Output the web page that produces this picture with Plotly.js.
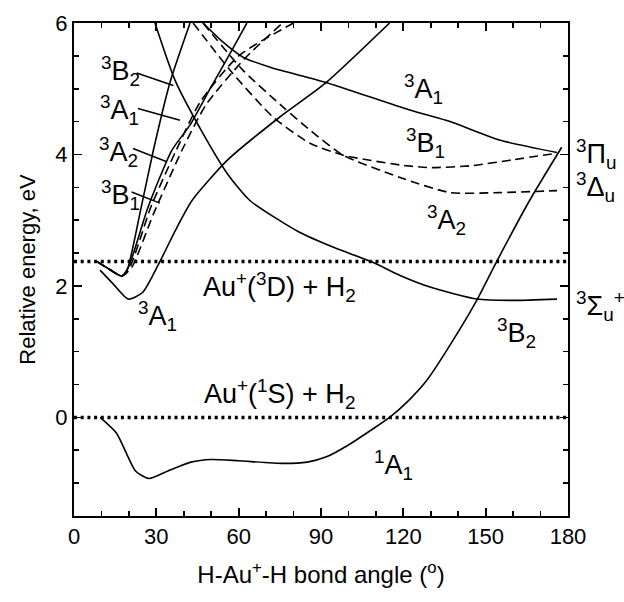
<!DOCTYPE html>
<html>
<head>
<meta charset="utf-8">
<script src="https://cdn.plot.ly/plotly-3.0.1.min.js"></script>
<style>html,body{margin:0;padding:0;background:#fff;}#chart{width:624px;height:602px;}</style>
</head>
<body>
<div id="chart"></div>
<script>
// ---- data (bond angle in degrees, relative energy in eV) ----
const asymptoteAngle = [0, 180];
const asym1S = [0, 0];
const asym3D = [2.37, 2.37];

const a1A1 = [9.5, 15.5, 22.5, 27.3, 35, 42.6, 50, 60, 76, 85, 92, 100, 108, 115, 122, 128.5, 140, 147, 154, 166, 177.7];
const e1A1 = [0, -0.24, -0.82, -0.93, -0.8, -0.68, -0.64, -0.66, -0.70, -0.68, -0.60, -0.42, -0.2, 0, 0.26, 0.56, 1.3, 1.8, 2.37, 3.3, 4.11];

const a3A1low = [9.5, 14.5, 19.7, 25, 31.3, 37, 43, 55.8, 75, 91.5, 115];
const e3A1low = [2.24, 2.02, 1.80, 1.9, 2.37, 2.85, 3.3, 3.91, 4.57, 5.08, 6.0];

const a3Sigma = [29.5, 36.8, 45.9, 56, 64.1, 82, 95, 108.3, 118.8, 130, 146.9, 160, 176];
const e3Sigma = [6.0, 5.13, 4.4, 3.7, 3.30, 2.82, 2.58, 2.37, 2.16, 1.98, 1.80, 1.78, 1.80];

const a3A1up = [47, 54, 61.6, 72, 91.5, 122, 137, 155, 176];
const e3A1up = [6.0, 5.72, 5.48, 5.32, 5.1, 4.68, 4.5, 4.22, 4.03];

const a3Pi = [43.4, 56.9, 72.5, 86, 98, 118.8, 130, 145, 160, 176];
const e3Pi = [6.0, 5.28, 4.57, 4.17, 3.99, 3.84, 3.80, 3.83, 3.92, 4.02];

const a3Delta = [47, 61.6, 76.2, 86, 98, 118.8, 137, 155, 176];
const e3Delta = [6.0, 5.28, 4.72, 4.37, 3.99, 3.65, 3.42, 3.42, 3.45];

const a3B2 = [8.4, 13, 17.4, 19.2, 24, 28.9, 35, 42.3];
const e3B2 = [2.37, 2.25, 2.15, 2.22, 3.1, 4.06, 5.1, 6.0];

const a3A1c = [8.4, 13, 17.4, 20, 27, 35.6, 42.3, 49.6, 58, 63];
const e3A1c = [2.37, 2.25, 2.15, 2.3, 3.2, 4.06, 4.45, 5.0, 5.62, 6.0];

const a3A2c = [8.4, 13, 17.4, 20.5, 28, 37.2, 46, 60, 80];
const e3A2c = [2.37, 2.25, 2.15, 2.3, 3.2, 4.06, 4.8, 5.5, 6.0];

const a3B1c = [8.4, 13, 17.4, 21, 29, 39.3, 48, 62, 76];
const e3B1c = [2.37, 2.25, 2.15, 2.28, 3.1, 4.06, 4.75, 5.45, 6.0];

const xRange = [0, 180];
const yRange = [-1.5, 6];

// ---- traces ----
const LW = 1.6;
const solid = {color: '#000', width: LW, shape: 'spline', smoothing: 0.6};
const dashed = {color: '#000', width: LW, shape: 'spline', smoothing: 0.6, dash: '9px,5px'};
const dotted = {color: '#000', width: 3.5, dash: '3px,3.7px'};

function tr(x, y, line) {
  return {x: x, y: y, mode: 'lines', line: line, hoverinfo: 'skip', showlegend: false};
}

const data = [
  tr(asymptoteAngle, asym1S, dotted),
  tr(asymptoteAngle, asym3D, dotted),
  tr(a1A1, e1A1, solid),
  tr(a3A1low, e3A1low, solid),
  tr(a3Sigma, e3Sigma, solid),
  tr(a3A1up, e3A1up, solid),
  tr(a3Pi, e3Pi, dashed),
  tr(a3Delta, e3Delta, dashed),
  tr(a3B2, e3B2, solid),
  tr(a3A1c, e3A1c, solid),
  tr(a3A2c, e3A2c, dashed),
  tr(a3B1c, e3B1c, dashed),
  // helper (invisible) trace carrying the mirrored top/right tick axes
  {x: asymptoteAngle, y: asym1S, xaxis: 'x2', yaxis: 'y2', mode: 'lines', line: {width: 0}, opacity: 0, hoverinfo: 'skip', showlegend: false}
];

const F = 'Arial, "Liberation Sans", Helvetica, sans-serif';
const lab = 27;
function ann(text, x, y, opts) {
  return Object.assign({text: text, x: x, y: y, xref: 'x', yref: 'y', showarrow: false,
    xanchor: 'center', yanchor: 'middle', font: {family: F, size: lab, color: '#000'}}, opts || {});
}

const annotations = [
  ann('<sup>3</sup>B<sub>2</sub>', 16.8, 5.27),
  ann('<sup>3</sup>A<sub>1</sub>', 16.4, 4.67),
  ann('<sup>3</sup>A<sub>2</sub>', 16.2, 4.03),
  ann('<sup>3</sup>B<sub>1</sub>', 16.8, 3.38),
  ann('<sup>3</sup>A<sub>1</sub>', 30.6, 1.55),
  ann('Au<sup>+</sup>(<sup>3</sup>D) + H<sub>2</sub>', 46.3, 1.98, {xanchor: 'left'}),
  ann('Au<sup>+</sup>(<sup>1</sup>S) + H<sub>2</sub>', 46.6, 0.35, {xanchor: 'left'}),
  ann('<sup>1</sup>A<sub>1</sub>', 116.3, -0.73),
  ann('<sup>3</sup>B<sub>2</sub>', 161.4, 1.29),
  ann('<sup>3</sup>A<sub>1</sub>', 127.2, 5.0),
  ann('<sup>3</sup>B<sub>1</sub>', 127.9, 4.17),
  ann('<sup>3</sup>A<sub>2</sub>', 135.9, 3.0),
  ann('<sup>3</sup>Π<sub>u</sub>', 1.012, 4.0, {xref: 'paper', xanchor: 'left'}),
  ann('<sup>3</sup>Δ<sub>u</sub>', 1.012, 3.5, {xref: 'paper', xanchor: 'left'}),
  ann('<sup>3</sup>Σ<sub>u</sub><sup>+</sup>', 1.012, 1.70, {xref: 'paper', xanchor: 'left'})
];

function leader(x0, y0, x1, y1) {
  return {type: 'line', xref: 'x', yref: 'y', x0: x0, y0: y0, x1: x1, y1: y1, line: {color: '#000', width: 1.5}};
}
const shapes = [
  leader(22.85, 5.24, 36.2, 5.05),
  leader(23.3, 4.70, 38.6, 4.52),
  leader(21.5, 4.09, 33.8, 3.89),
  leader(21.0, 3.43, 31.3, 3.26)
];

const tickCommon = {ticks: 'inside', ticklen: 8, tickwidth: 1.8, tickcolor: '#000', showgrid: false, zeroline: false};
const xMinor = {dtick: 10, tick0: 0, ticks: 'inside', ticklen: 5, tickcolor: '#000', tickwidth: 1.6, showgrid: false};
const yMinor = {dtick: 0.5, tick0: 0, ticks: 'inside', ticklen: 5, tickcolor: '#000', tickwidth: 1.6, showgrid: false};

const layout = {
  width: 624, height: 602,
  margin: {l: 74, r: 56, t: 23, b: 86},
  paper_bgcolor: '#fff', plot_bgcolor: '#fff',
  xaxis: Object.assign({}, tickCommon, {
    showline: true, linecolor: '#000', linewidth: 2, mirror: true,
    range: xRange, tickmode: 'linear', tick0: 0, dtick: 30,
    tickfont: {family: F, size: 22, color: '#000'},
    minor: xMinor,
    title: {text: 'H-Au<sup>+</sup>-H bond angle (<sup>o</sup>)', font: {family: F, size: 24, color: '#000'}, standoff: 18}
  }),
  yaxis: Object.assign({}, tickCommon, {
    showline: true, linecolor: '#000', linewidth: 2, mirror: true,
    range: yRange, tickmode: 'linear', tick0: 0, dtick: 2,
    tickfont: {family: F, size: 22, color: '#000'},
    minor: yMinor,
    title: {text: 'Relative energy, eV', font: {family: F, size: 22, color: '#000'}, standoff: 14}
  }),
  xaxis2: Object.assign({}, tickCommon, {
    overlaying: 'x', anchor: 'y2', side: 'top', range: xRange, showline: false,
    tickmode: 'linear', tick0: 0, dtick: 30, showticklabels: false, minor: xMinor
  }),
  yaxis2: Object.assign({}, tickCommon, {
    overlaying: 'y', anchor: 'x2', side: 'right', range: yRange, showline: false,
    tickmode: 'linear', tick0: 0, dtick: 2, showticklabels: false, minor: yMinor
  }),
  annotations: annotations,
  shapes: shapes
};

Plotly.newPlot('chart', data, layout, {staticPlot: true, displayModeBar: false});
</script>
</body>
</html>
